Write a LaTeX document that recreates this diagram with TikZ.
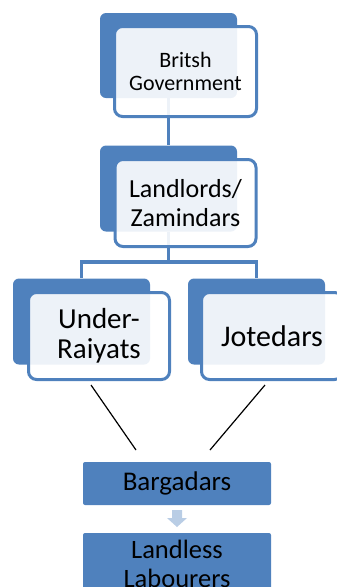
\documentclass[tikz,border=0pt]{standalone}
\usepackage{fontspec}
\setmainfont{Carlito}
\usetikzlibrary{positioning, backgrounds}
\usepackage{xcolor}
\definecolor{cardblue}{HTML}{4F81BD}
\definecolor{arrowblue}{HTML}{B9CDE5}

\begin{document}
\begin{tikzpicture}[x=1pt, y=-1pt,
  backcard/.style={fill=cardblue, rounded corners=6pt, inner sep=0pt, minimum width=137pt, minimum height=86pt},
  frontcard/.style={draw=cardblue, line width=3pt, fill=white, fill opacity=0.9, text opacity=1,
    rounded corners=8pt, align=center, inner sep=0pt, minimum width=141pt, minimum height=87pt},
  flatbox/.style={fill=cardblue, rounded corners=2pt, align=center, inner sep=0pt,
    minimum width=188pt, font=\fontsize{26.5}{28.6}\selectfont},
  link/.style={draw=cardblue, line width=3.5pt},
  tie/.style={draw=black, line width=1.2pt}
]
\useasboundingbox (0,0) rectangle (337,587);
\clip (0,0) rectangle (337,587);

% top of the chain
\node[backcard, minimum height=85pt] (govB) at (168.5,55.5) {};
\node[frontcard, minimum width=142pt, minimum height=90pt, font=\fontsize{22}{23}\selectfont] (gov) at (185.5,71.5) {Britsh\\Government};

\node[backcard] (landB) at (168.5,188.5) {};
\node[frontcard, font=\fontsize{26}{28.6}\selectfont] (land) at (185.5,203) {Landlords/\\Zamindars};

% two tenant groups
\node[backcard] (underB) at (81.5,321.5) {};
\node[frontcard, font=\fontsize{29}{30}\selectfont] (under) at (99,336) {Under-\\Raiyats};

\node[backcard] (joteB) at (256.5,321.5) {};
\node[frontcard, font=\fontsize{30}{30}\selectfont] (jote) at (272,336) {Jotedars};

% bottom boxes
\node[flatbox, minimum height=43pt, font=\fontsize{27}{28.6}\selectfont] (barg) at (177,483.5) {Bargadars};
\node[flatbox, minimum height=62pt] (landless) at (177,564) {Landless\\Labourers};

\coordinate (fork) at (168.5,262);
\begin{scope}[on background layer]
  \draw[link] (govB.south) -- (landB.north);
  \draw[link] (landB.south) -- (fork) -| (underB.north);
  \draw[link] (fork) -| (joteB.north);
\end{scope}

\coordinate (tieL) at (136,450);
\coordinate (tieR) at (210,450);
\draw[tie] ([xshift=-8pt,yshift=-4pt]under.south) -- (tieL);
\draw[tie] ([xshift=-7pt,yshift=-4pt]jote.south) -- (tieR);

\fill[arrowblue] (172,510) -- (182,510) -- (182,518) -- (187,518) -- (177,527)
  -- (167,518) -- (172,518) -- cycle;
\end{tikzpicture}
\end{document}
